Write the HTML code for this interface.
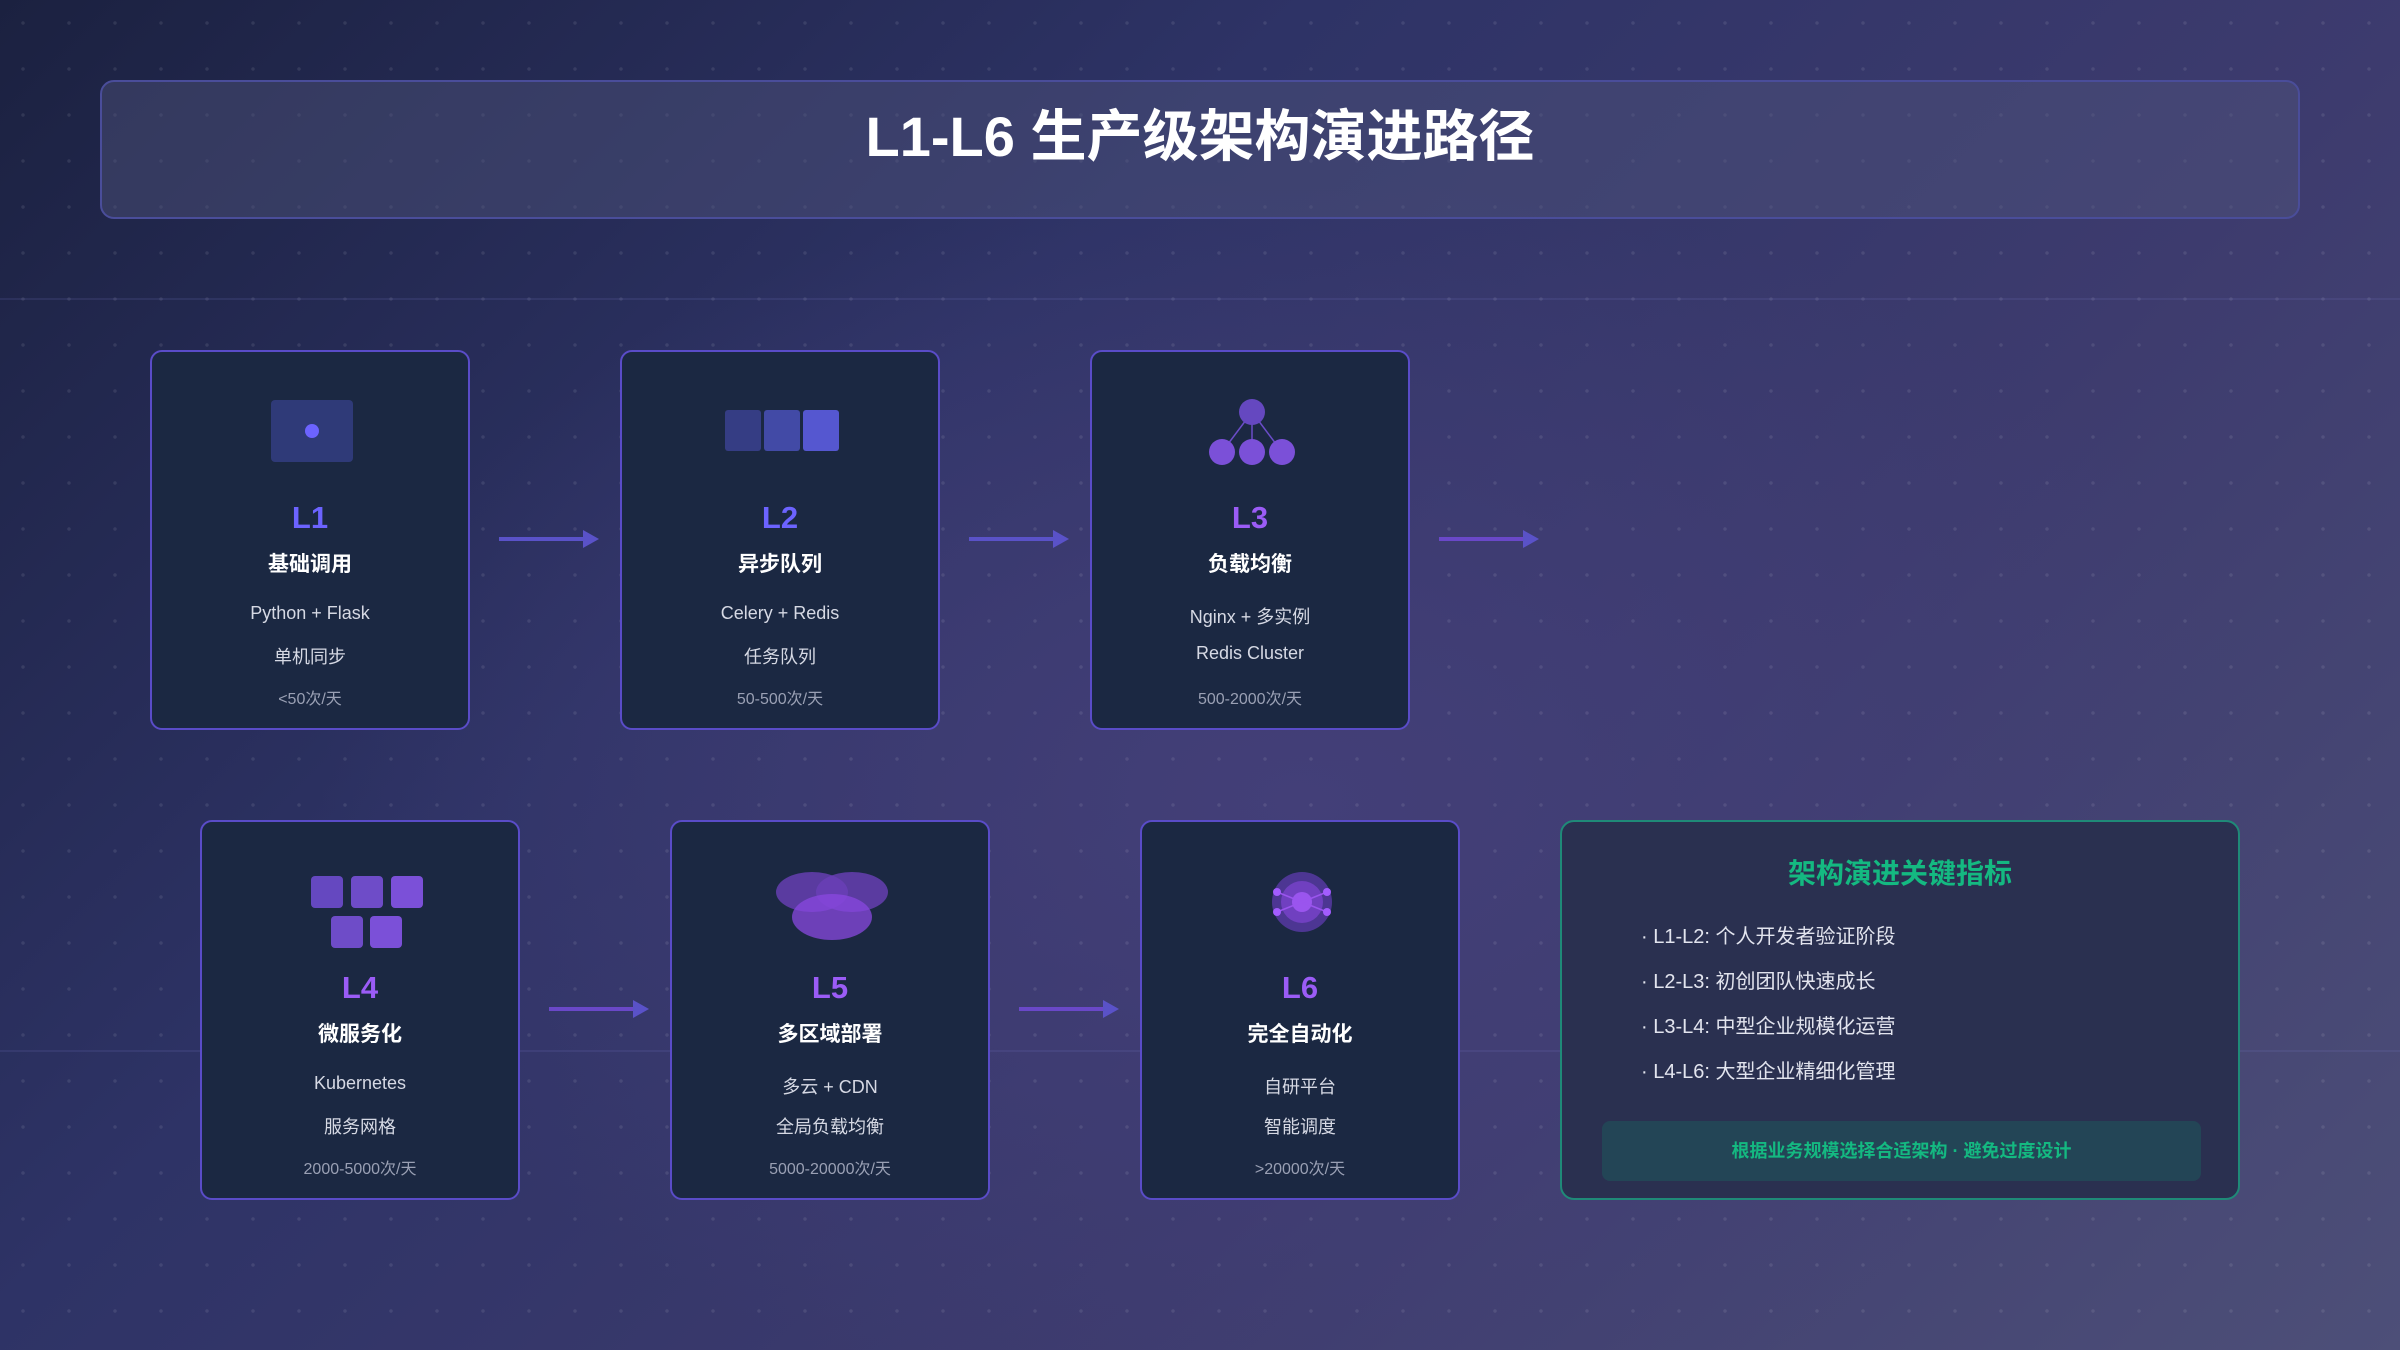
<!DOCTYPE html>
<html><head><meta charset="utf-8"><style>
*{margin:0;padding:0;box-sizing:border-box}
body{width:2400px;height:1350px;overflow:hidden;font-family:"Liberation Sans","Noto Sans CJK SC",sans-serif;
background:radial-gradient(ellipse 1400px 900px at 1300px 800px,#433f78 0%,rgba(67,63,120,0) 70%),linear-gradient(135deg,#1b2140 0%,#2e3366 35%,#3d3b6e 65%,#4d4f78 100%);position:relative}
.dots{position:absolute;inset:0;background-image:radial-gradient(circle,rgba(255,255,255,0.09) 1.5px,transparent 2px);background-size:46px 46px}
.hdr{position:absolute;left:100px;top:80px;width:2200px;height:139px;border:2px solid #4a4d9a;border-radius:14px;background:rgba(80,85,125,0.45);color:#fff;font-size:56px;font-weight:bold;text-align:center;line-height:110px}
.hline{position:absolute;left:0;right:0;height:2px;background:rgba(120,120,200,0.15)}
.card{position:absolute;width:320px;height:380px;background:#1b2842;border:2px solid #5a4cc8;border-radius:12px;text-align:center}
.card svg{position:absolute;left:0;top:0}
.lv{position:absolute;left:0;right:0;top:148px;font-size:31px;font-weight:bold;color:#6c63ff}
.tt{position:absolute;left:0;right:0;top:196px;font-size:21px;font-weight:bold;color:#fff}
.l1{position:absolute;left:0;right:0;top:251px;font-size:18px;color:#d6d9e4}
.l2{position:absolute;left:0;right:0;top:291px;font-size:18px;color:#d6d9e4}
.l3{position:absolute;left:0;right:0;top:333px;font-size:16px;color:#9aa0b4}
.p{color:#9b5cf6}
.arr{position:absolute;height:4px;background:#5a52c8}
.arr:after{content:"";position:absolute;right:-14px;top:-7px;border-left:16px solid #5a52c8;border-top:9px solid transparent;border-bottom:9px solid transparent}
.m{position:absolute;left:1560px;top:820px;width:680px;height:380px;border:2px solid #1f8a78;border-radius:14px;background:#2a3050}
.m h2{position:absolute;left:0;right:0;top:30px;text-align:center;font-size:28px;color:#14b981}
.m .b{position:absolute;left:79px;font-size:20px;color:#e2e4ee}
.m .f{position:absolute;left:40px;top:299px;width:599px;height:60px;border-radius:8px;background:#234556;color:#14b981;font-size:18px;font-weight:bold;text-align:center;line-height:60px}
</style></head><body>
<div class="dots"></div>
<div class="hline" style="top:298px"></div>
<div class="hline" style="top:1050px"></div>
<div class="hdr">L1-L6 生产级架构演进路径</div>

<div class="card" style="left:150px;top:350px">
<svg width="320" height="140"><rect x="119" y="48" width="82" height="62" rx="4" fill="#2f3a78"/><circle cx="160" cy="79" r="7" fill="#6c63ff"/></svg>
<div class="lv">L1</div><div class="tt">基础调用</div><div class="l1">Python + Flask</div><div class="l2">单机同步</div><div class="l3">&lt;50次/天</div></div>

<div class="card" style="left:620px;top:350px">
<svg width="320" height="140"><rect x="103" y="58" width="36" height="41" rx="3" fill="#353d84"/><rect x="142" y="58" width="36" height="41" rx="3" fill="#424aa6"/><rect x="181" y="58" width="36" height="41" rx="3" fill="#5557d0"/></svg>
<div class="lv">L2</div><div class="tt">异步队列</div><div class="l1">Celery + Redis</div><div class="l2">任务队列</div><div class="l3">50-500次/天</div></div>

<div class="card" style="left:1090px;top:350px">
<svg width="320" height="140"><line x1="160" y1="60" x2="130" y2="100" stroke="#6a4cc8" stroke-width="1.5"/><line x1="160" y1="60" x2="160" y2="100" stroke="#6a4cc8" stroke-width="1.5"/><line x1="160" y1="60" x2="190" y2="100" stroke="#6a4cc8" stroke-width="1.5"/><circle cx="160" cy="60" r="13" fill="#6548c0"/><circle cx="130" cy="100" r="13" fill="#7b50d8"/><circle cx="160" cy="100" r="13" fill="#7b50d8"/><circle cx="190" cy="100" r="13" fill="#7b50d8"/></svg>
<div class="lv p">L3</div><div class="tt">负载均衡</div><div class="l1">Nginx + 多实例</div><div class="l2">Redis Cluster</div><div class="l3">500-2000次/天</div></div>

<div class="card" style="left:200px;top:820px">
<svg width="320" height="140"><rect x="109" y="54" width="32" height="32" rx="4" fill="#6548c0"/><rect x="149" y="54" width="32" height="32" rx="4" fill="#6e4cc8"/><rect x="189" y="54" width="32" height="32" rx="4" fill="#7b50d8"/><rect x="129" y="94" width="32" height="32" rx="4" fill="#6e4cc8"/><rect x="168" y="94" width="32" height="32" rx="4" fill="#7b50d8"/></svg>
<div class="lv p">L4</div><div class="tt">微服务化</div><div class="l1">Kubernetes</div><div class="l2">服务网格</div><div class="l3">2000-5000次/天</div></div>

<div class="card" style="left:670px;top:820px">
<svg width="320" height="140"><ellipse cx="140" cy="70" rx="36" ry="20" fill="#6a40b8" opacity="0.8"/><ellipse cx="180" cy="70" rx="36" ry="20" fill="#6a40b8" opacity="0.8"/><ellipse cx="160" cy="95" rx="40" ry="23" fill="#8a48e0" opacity="0.75"/></svg>
<div class="lv p">L5</div><div class="tt">多区域部署</div><div class="l1">多云 + CDN</div><div class="l2">全局负载均衡</div><div class="l3">5000-20000次/天</div></div>

<div class="card" style="left:1140px;top:820px">
<svg width="320" height="140"><circle cx="160" cy="80" r="30" fill="#5a3aa8" opacity="0.8"/><circle cx="160" cy="80" r="21" fill="#7040c0"/><circle cx="160" cy="80" r="10" fill="#9a55ee"/><g stroke="#9a55ee" stroke-width="1.5"><line x1="135" y1="70" x2="185" y2="90"/><line x1="135" y1="90" x2="185" y2="70"/></g><circle cx="135" cy="70" r="4" fill="#a35cff"/><circle cx="185" cy="70" r="4" fill="#a35cff"/><circle cx="135" cy="90" r="4" fill="#a35cff"/><circle cx="185" cy="90" r="4" fill="#a35cff"/></svg>
<div class="lv p">L6</div><div class="tt">完全自动化</div><div class="l1">自研平台</div><div class="l2">智能调度</div><div class="l3">&gt;20000次/天</div></div>

<div class="arr" style="left:499px;top:537px;width:86px"></div>
<div class="arr" style="left:969px;top:537px;width:86px"></div>
<div class="arr" style="left:1439px;top:537px;width:86px;background:#6a48c8"></div>
<div class="arr" style="left:549px;top:1007px;width:86px;background:#6a48c8"></div>
<div class="arr" style="left:1019px;top:1007px;width:86px;background:#6a48c8"></div>

<div class="m"><h2>架构演进关键指标</h2>
<div class="b" style="top:98px">· L1-L2: 个人开发者验证阶段</div>
<div class="b" style="top:143px">· L2-L3: 初创团队快速成长</div>
<div class="b" style="top:188px">· L3-L4: 中型企业规模化运营</div>
<div class="b" style="top:233px">· L4-L6: 大型企业精细化管理</div>
<div class="f">根据业务规模选择合适架构 · 避免过度设计</div></div>
</body></html>
